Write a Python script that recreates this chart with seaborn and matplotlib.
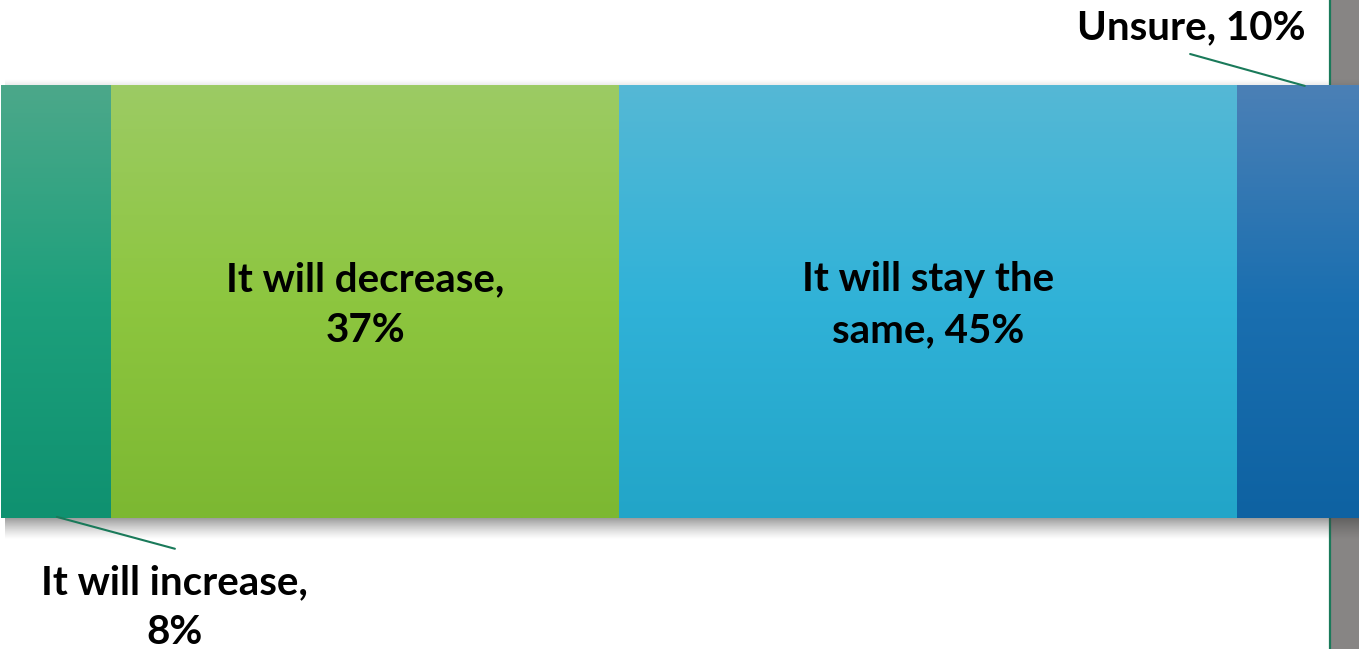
import numpy as np
import pandas as pd
import matplotlib
matplotlib.use("Agg")
import matplotlib.pyplot as plt
from matplotlib.colors import LinearSegmentedColormap
import seaborn as sns

# Survey answers and their shares (percent)
answers = ["It will increase", "It will decrease", "It will stay the same", "Unsure"]
shares = [8, 37, 45, 10]
# Gradient stops per segment: top, middle, bottom
top_colors = ["#4ca88a", "#9ccb64", "#55b8d5", "#4b80b6"]
mid_colors = ["#1da07c", "#8dc63f", "#30b2d8", "#1a6fb0"]
bottom_colors = ["#0f9170", "#7cb832", "#22a5c8", "#0e62a2"]

sns.set_theme(style="white")
plt.rcParams["font.family"] = ["Lato", "DejaVu Sans"]

W, H = 1359, 649
fig = plt.figure(figsize=(W / 100, H / 100), dpi=100)
ax = fig.add_axes([0, 0, 1, 1])

cum = np.cumsum(shares)
starts = cum - np.array(shares)
df = pd.DataFrame({"group": ["all"] * len(answers), "answer": answers, "cum": cum})

# Stacked bar drawn as overlapping cumulative bars, widest first
for i in reversed(range(len(answers))):
    sns.barplot(data=df.iloc[[i]], x="cum", y="group", orient="h",
                color=mid_colors[i], width=0.8, saturation=1, ax=ax,
                edgecolor="none", linewidth=0, zorder=3)

bar_h = 0.8
y_top, y_bot = -bar_h / 2, bar_h / 2

ax.axis("off")

# Grey side panel with green edge on the right
ax.axvspan(96.8, 110, color="#878584", zorder=0, lw=0)
ax.axvline(96.78, color="#1a7a5a", lw=1.6, zorder=0.5)

# Soft shadow under and above the bar
sh_cmap = LinearSegmentedColormap.from_list("sh", [(0.25, 0.25, 0.25, 0), (0.25, 0.25, 0.25, 1)])
shadow_below = np.linspace(0.6, 0.0, 64)[:, None] ** 1.3
ax.imshow(shadow_below, cmap=sh_cmap, vmin=0, vmax=1, aspect="auto",
          extent=(0.3, 110, y_bot + 0.040, y_bot), zorder=1, interpolation="bilinear")
shadow_above = np.linspace(0.0, 0.12, 32)[:, None]
ax.imshow(shadow_above, cmap=sh_cmap, vmin=0, vmax=1, aspect="auto",
          extent=(0.3, 110, y_top, y_top - 0.012), zorder=1, interpolation="bilinear")

# Vertical gradient fill for each segment
grad = np.linspace(0, 1, 256)[:, None]
for i in range(len(answers)):
    cmap = LinearSegmentedColormap.from_list(
        f"seg{i}", [(0, top_colors[i]), (0.5, mid_colors[i]), (1, bottom_colors[i])])
    ax.imshow(grad, cmap=cmap, aspect="auto", interpolation="bilinear",
              extent=(starts[i], cum[i], y_bot, y_top), zorder=4)

ax.set_xlim(-0.09, 98.9)
ax.set_ylim(0.6426, -0.559)

label_kw = dict(fontsize=29, fontweight="bold", color="black", ha="center",
                va="center", linespacing=1.45, zorder=6)

# Labels inside the two large segments
ax.text((starts[1] + cum[1]) / 2, 0.006, f"It will decrease,\n{shares[1]}%", **label_kw)
ax.text((starts[2] + cum[2]) / 2, 0.006, f"It will stay the\nsame, {shares[2]}%", **label_kw)

# Outside labels with leader lines
leader = dict(color="#1a7a5a", lw=1.5, zorder=6)
ax.plot([4.05, 12.65], [y_bot - 0.002, y_bot + 0.057], **leader)
ax.text(12.65, 0.566, f"It will increase,\n{shares[0]}%", **label_kw)
ax.plot([86.6, 94.95], [y_top - 0.059, y_top], **leader)
ax.text(86.7, -0.507, f"Unsure, {shares[3]}%", **label_kw)

fig.savefig("out.png", dpi=100)
